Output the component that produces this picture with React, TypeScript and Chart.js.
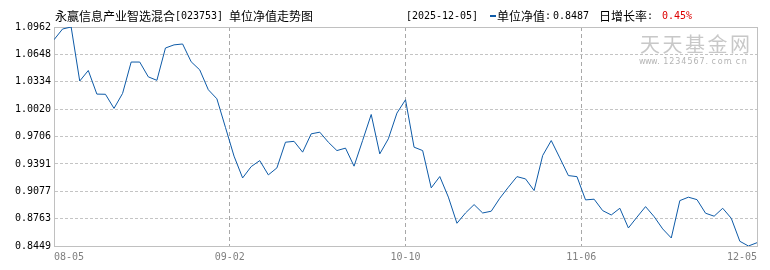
import React, { useEffect, useRef } from "react";
import { Chart, registerables } from "chart.js";

Chart.register(...registerables);

const fundTitle = "永赢信息产业智选混合[023753] 单位净值走势图";
const latestDate = "[2025-12-05]";
const navLabel = "单位净值:";
const latestNav = "0.8487";
const growthLabel = "日增长率:";
const latestGrowth = "0.45%";
const watermarkMain = "天天基金网";
const watermarkSub = "www.1234567.com.cn";

const xTickLabels = ["08-05", "09-02", "10-10", "11-06", "12-05"];
const yTickLabels = ["0.8449", "0.8763", "0.9077", "0.9391", "0.9706", "1.0020", "1.0334", "1.0648", "1.0962"];

const navValues = [
  1.0816, 1.0939, 1.0962, 1.0342, 1.0463, 1.0192, 1.0190, 1.0028, 1.0200, 1.0560,
  1.0560, 1.0390, 1.0350, 1.0721, 1.0757, 1.0767, 1.0563, 1.0470, 1.0242, 1.0138,
  0.9810, 0.9480, 0.9230, 0.9360, 0.9429, 0.9265, 0.9345, 0.9640, 0.9650, 0.9526,
  0.9736, 0.9755, 0.9640, 0.9544, 0.9572, 0.9365, 0.9660, 0.9958, 0.9506, 0.9679,
  0.9974, 1.0127, 0.9583, 0.9544, 0.9116, 0.9246, 0.9010, 0.8710, 0.8828, 0.8924,
  0.8828, 0.8848, 0.8997, 0.9124, 0.9245, 0.9219, 0.9085, 0.9487, 0.9659, 0.9460,
  0.9257, 0.9245, 0.8978, 0.8986, 0.8855, 0.8805, 0.8882, 0.8656, 0.8780, 0.8901,
  0.8786, 0.8645, 0.8541, 0.8970, 0.9009, 0.8981, 0.8825, 0.8791, 0.8882, 0.8767,
  0.8503, 0.8449, 0.8487,
];

const LINE_COLOR = "#0d5aa7";

const isWide = (ch: string) => ch.charCodeAt(0) > 0x2e7f;

function drawMixed(ctx: CanvasRenderingContext2D, text: string, x: number, y: number, color: string) {
  ctx.save();
  ctx.fillStyle = color;
  ctx.textBaseline = "middle";
  ctx.textAlign = "left";
  let cx = x;
  for (const ch of text) {
    if (isWide(ch)) {
      ctx.font = '12px "Noto Sans CJK SC"';
      ctx.fillText(ch, cx, y);
      cx += 12;
    } else {
      ctx.font = '10px "DejaVu Sans Mono"';
      ctx.fillText(ch, cx, y);
      cx += 6;
    }
  }
  ctx.restore();
  return cx;
}

const decorPlugin = {
  id: "decor",
  beforeDatasetsDraw(chart: any) {
    const ctx: CanvasRenderingContext2D = chart.ctx;
    const { left, right, top, bottom } = chart.chartArea;
    // watermark
    ctx.save();
    ctx.fillStyle = "#c8c8c8";
    ctx.textBaseline = "middle";
    ctx.textAlign = "left";
    ctx.font = '20px "Noto Sans CJK SC"';
    Array.from(watermarkMain).forEach((ch, i) => ctx.fillText(ch, 640 + i * 22.5, 44));
    ctx.fillStyle = "#b4b4b4";
    ctx.font = '8px "DejaVu Sans"';
    Array.from(watermarkSub).forEach((ch, i) => ctx.fillText(ch, 639 + i * 6.05, 62));
    // top & right border
    ctx.strokeStyle = "#c0c0c0";
    ctx.lineWidth = 1;
    ctx.setLineDash([]);
    ctx.beginPath();
    ctx.moveTo(Math.floor(left), Math.floor(top) + 0.5);
    ctx.lineTo(Math.floor(right) + 1, Math.floor(top) + 0.5);
    ctx.moveTo(Math.floor(right) + 0.5, Math.floor(top));
    ctx.lineTo(Math.floor(right) + 0.5, Math.floor(bottom) + 1);
    ctx.stroke();
    ctx.restore();
  },
  afterDraw(chart: any) {
    const ctx: CanvasRenderingContext2D = chart.ctx;
    drawMixed(ctx, fundTitle, 55, 16, "#000");
    drawMixed(ctx, latestDate, 406, 16, "#000");
    ctx.save();
    ctx.fillStyle = LINE_COLOR;
    ctx.fillRect(490, 15, 6, 2);
    ctx.restore();
    drawMixed(ctx, navLabel, 497, 16, "#000");
    drawMixed(ctx, latestNav, 553, 16, "#000");
    drawMixed(ctx, growthLabel, 599, 16, "#000");
    drawMixed(ctx, latestGrowth, 662, 16, "#dd0000");
  },
};

export default function App() {
  const canvasRef = useRef<HTMLCanvasElement | null>(null);

  useEffect(() => {
    document.body.style.margin = "0";
    const canvas = canvasRef.current;
    if (!canvas) return;
    const yMin = parseFloat(yTickLabels[0]);
    const yMax = parseFloat(yTickLabels[yTickLabels.length - 1]);
    const chart = new Chart(canvas, {
      type: "line",
      data: {
        datasets: [
          {
            data: navValues.map((v, i) => ({ x: i, y: v })),
            borderColor: LINE_COLOR,
            borderWidth: 1,
            pointRadius: 0,
            fill: false,
            tension: 0,
          },
        ],
      },
      options: {
        animation: false,
        responsive: false,
        devicePixelRatio: 1,
        layout: { padding: { top: 27, right: 13, left: 0, bottom: 0 } },
        plugins: {
          legend: { display: false },
          tooltip: { enabled: false },
        },
        scales: {
          x: {
            type: "linear",
            min: 0,
            max: navValues.length - 1,
            afterBuildTicks: (s: any) => {
              const n = xTickLabels.length;
              s.ticks = xTickLabels.map((_, i) => ({ value: ((navValues.length - 1) * i) / (n - 1) }));
            },
            afterFit: (s: any) => {
              s.height = 24;
            },
            ticks: {
              autoSkip: false,
              maxRotation: 0,
              minRotation: 0,
              align: "inner",
              padding: 5,
              color: "#808080",
              font: { family: "DejaVu Sans Mono", size: 10 },
              callback: (_v: any, i: number) => xTickLabels[i],
            },
            grid: { color: "#a8a8a8", lineWidth: 1, drawTicks: false },
            border: { display: true, color: "#c0c0c0", dash: [4, 3] },
          },
          y: {
            type: "linear",
            min: yMin,
            max: yMax,
            afterBuildTicks: (s: any) => {
              s.ticks = yTickLabels.map((l) => ({ value: parseFloat(l) }));
            },
            afterFit: (s: any) => {
              s.width = 54;
            },
            ticks: {
              autoSkip: false,
              padding: 3,
              color: "#000",
              font: { family: "DejaVu Sans Mono", size: 10 },
              callback: (_v: any, i: number) => yTickLabels[i],
            },
            grid: { color: "#c4c4c4", lineWidth: 1, drawTicks: false },
            border: { display: true, color: "#c0c0c0", dash: [3, 2] },
          },
        },
      },
      plugins: [decorPlugin],
    } as any);
    return () => chart.destroy();
  }, []);

  return (
    <div style={{ width: 770, height: 270, position: "relative", background: "#fff" }}>
      <canvas ref={canvasRef} width={770} height={270} style={{ display: "block" }} />
    </div>
  );
}
